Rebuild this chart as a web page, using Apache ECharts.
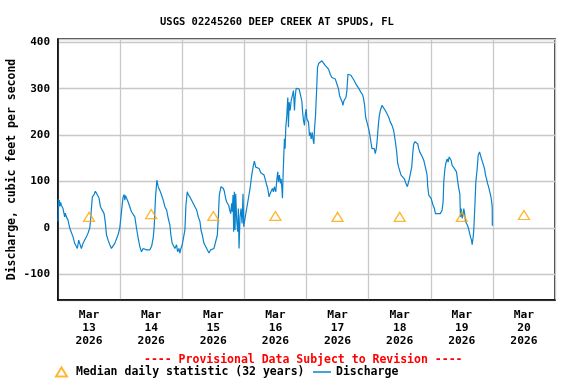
<!DOCTYPE html>
<html>
<head>
<meta charset="utf-8">
<script src="https://cdn.jsdelivr.net/npm/echarts@6/dist/echarts.min.js"></script>
<style>
  html, body { margin: 0; padding: 0; background: #fff; }
  #chart { width: 576px; height: 384px; }
</style>
</head>
<body>
<div id="chart"></div>
<script>
// hours since Mar 13 2026 00:00
var hours = [
  0.0, 0.13, 0.26, 0.52, 0.77, 1.03, 1.29, 1.55, 1.94, 2.32, 2.58, 2.84, 3.23, 3.61, 3.87, 4.26, 4.52, 5.16, 5.81, 6.45,
  7.10, 7.48, 8.0, 8.39, 9.03, 9.68, 10.32, 10.97, 11.61, 12.26, 12.65, 12.90, 13.29, 13.94, 14.45, 14.84, 15.23, 15.87, 16.39, 17.03,
  17.42, 17.81, 18.32, 18.71, 19.35, 20.0, 20.65, 21.29, 21.94, 22.58, 23.23, 23.87, 24.52, 25.16, 25.55, 25.81, 26.06, 26.45, 27.10, 27.74,
  28.39, 29.03, 29.68, 30.32, 30.97, 31.61, 32.26, 32.90, 33.55, 34.19, 34.84, 35.48, 36.13, 36.77, 37.16, 37.68, 38.19, 38.71, 39.35, 40.0,
  40.65, 41.29, 41.94, 42.58, 43.23, 43.61, 44.13, 44.52, 45.16, 45.81, 46.19, 46.71, 47.10, 47.48, 48.0, 48.65, 49.03, 49.42, 49.94, 50.32,
  50.97, 51.61, 52.26, 52.90, 53.55, 54.19, 54.84, 55.23, 55.74, 56.39, 57.03, 57.68, 58.32, 58.97, 59.61, 60.26, 60.90, 61.55, 61.94, 62.32,
  62.97, 63.48, 63.87, 64.26, 64.77, 65.16, 65.55, 65.94, 66.32, 66.71, 67.10, 67.35, 67.61, 67.87, 68.13, 68.39, 68.65, 69.03, 69.42, 69.68,
  69.94, 70.32, 70.71, 71.10, 71.48, 71.74, 72.13, 72.52, 72.90, 73.55, 74.19, 74.84, 75.48, 75.87, 76.39, 77.03, 77.68, 78.32, 78.97, 79.61,
  80.0, 80.26, 80.65, 81.03, 81.55, 81.94, 82.32, 82.84, 83.23, 83.61, 84.13, 84.52, 84.90, 85.16, 85.55, 85.94, 86.19, 86.45, 86.71, 86.97,
  87.23, 87.48, 87.74, 88.0, 88.39, 88.77, 89.03, 89.29, 89.68, 90.06, 90.58, 90.97, 91.35, 91.61, 92.0, 92.52, 93.16, 93.81, 94.19, 94.45,
  94.84, 95.23, 95.48, 95.87, 96.13, 96.52, 96.77, 97.16, 97.42, 97.81, 98.19, 98.58, 98.84, 99.10, 99.48, 99.87, 100.26, 100.77, 101.29, 101.94,
  102.58, 103.23, 103.87, 104.52, 105.16, 105.81, 106.45, 107.10, 107.74, 108.39, 108.77, 109.29, 109.81, 110.06, 110.45, 110.84, 111.23, 111.61, 112.0, 112.52,
  113.16, 113.81, 114.45, 115.10, 115.74, 116.39, 117.03, 117.68, 118.06, 118.45, 118.84, 119.35, 120.0, 120.39, 120.90, 121.29, 121.68, 122.19, 122.58, 122.97,
  123.35, 123.74, 124.13, 124.52, 125.16, 125.81, 126.45, 127.10, 127.74, 128.39, 129.03, 129.68, 130.06, 130.45, 130.84, 131.23, 131.61, 132.0, 132.52, 132.90,
  133.29, 133.81, 134.19, 134.58, 134.97, 135.35, 135.74, 136.13, 136.65, 137.03, 137.42, 137.94, 138.45, 138.97, 139.35, 139.74, 140.26, 140.77, 141.29, 141.68,
  142.06, 142.58, 142.84, 143.23, 143.61, 144.13, 144.52, 144.90, 145.42, 145.81, 146.19, 146.71, 147.23, 147.74, 148.39, 148.77, 149.03, 149.42, 149.81, 150.32,
  150.71, 151.10, 151.48, 151.87, 152.26, 152.65, 153.16, 153.55, 153.94, 154.45, 154.84, 155.23, 155.48, 155.74, 156.13, 156.52, 156.77, 157.16, 157.42, 157.81,
  158.19, 158.58, 158.97, 159.35, 159.74, 160.0, 160.39, 160.65, 161.03, 161.42, 161.94, 162.32, 162.84, 163.23, 163.61, 164.0, 164.39, 164.77, 165.16, 165.55,
  165.94, 166.32, 166.71, 167.10, 167.35, 167.74, 167.8
];
// discharge, cubic feet per second
var discharge = [
  14, 62, 45, 60, 47, 55, 49, 52, 42, 38, 24, 32, 24, 28, 17, 19, 0, -4, -19, -33,
  -36, -44, -26, -33, -44, -33, -26, -19, -11, 0, 20, 42, 67, 72, 79, 81, 71, 64, 46, 39,
  42, 31, 10, -14, -26, -36, -44, -40, -33, -29, -14, 0, 35, 67, 72, 60, 70, 67, 56, 53,
  35, 35, 24, 0, -22, -40, -51, -44, -47, -47, -44, -47, -40, -22, 3, 67, 103, 89, 81, 71,
  60, 46, 39, 21, 6, -15, -33, -36, -44, -36, -51, -44, -54, -44, -36, -33, -4, 49, 78, 72,
  67, 64, 53, 46, 39, 24, 14, -4, -15, -33, -40, -44, -54, -47, -49, -44, -40, -15, 24, 71,
  89, 92, 85, 79, 64, 56, 60, 49, 39, 31, 53, 35, 71, -8, 78, -4, 74, 17, -8, 42,
  -44, 24, 42, 10, 74, 3, 17, 21, 42, 46, 85, 114, 135, 144, 131, 135, 128, 119, 117, 114,
  106, 103, 92, 85, 67, 74, 78, 85, 78, 89, 78, 103, 121, 99, 114, 96, 106, 89, 64, 117,
  156, 192, 171, 217, 242, 281, 217, 271, 253, 274, 278, 296, 253, 281, 301, 303, 299, 296, 274, 253,
  231, 221, 242, 256, 235, 231, 228, 199, 206, 192, 206, 189, 181, 214, 242, 292, 346, 355, 357, 360,
  355, 350, 346, 342, 331, 324, 321, 321, 310, 299, 285, 281, 271, 264, 274, 271, 281, 296, 331, 332,
  329, 327, 317, 310, 306, 299, 292, 287, 278, 264, 239, 228, 214, 203, 199, 171, 167, 171, 160, 171,
  192, 221, 242, 253, 264, 260, 253, 249, 239, 228, 221, 210, 206, 181, 164, 139, 131, 128, 114, 114,
  110, 106, 99, 96, 89, 92, 106, 117, 131, 160, 181, 186, 189, 181, 171, 164, 160, 153, 146, 142,
  128, 114, 89, 71, 74, 64, 60, 49, 42, 31, 28, 31, 28, 31, 39, 56, 99, 125, 139, 149,
  142, 153, 156, 146, 135, 131, 128, 129, 121, 99, 85, 74, 24, 42, 21, 31, 42, 28, 14, 17,
  6, -1, 3, -19, -26, -36, -19, -1, 46, 99, 128, 156, 164, 160, 149, 146, 135, 128, 114, 106,
  96, 89, 89, 71, 64, 46, 5
];
// median daily statistic, one per day at noon
var medianHours = [12, 36, 60, 84, 108, 132, 156, 180];
var medianValues = [24, 30, 26, 26, 24, 24, 24, 28];
var dayLabels = ['Mar\n13\n2026', 'Mar\n14\n2026', 'Mar\n15\n2026', 'Mar\n16\n2026',
                 'Mar\n17\n2026', 'Mar\n18\n2026', 'Mar\n19\n2026', 'Mar\n20\n2026'];

var font = 'DejaVu Sans Mono';
var lineColor = '#0a82cc';
var medianColor = '#ffa500';

var lineData = [];
for (var i = 0; i < hours.length; i++) lineData.push([hours[i], discharge[i]]);
var medianData = [];
for (var j = 0; j < medianHours.length; j++) medianData.push([medianHours[j], medianValues[j]]);

var chart = echarts.init(document.getElementById('chart'), null, { renderer: 'canvas' });
chart.setOption({
  backgroundColor: '#fff',
  animation: false,
  title: [
    {
      text: 'USGS 02245260 DEEP CREEK AT SPUDS, FL',
      left: 155, top: 12,
      textStyle: { fontFamily: font, fontWeight: 'bold', fontSize: 10.5, color: '#000' }
    },
    {
      text: '---- Provisional Data Subject to Revision ----',
      left: 139, top: 349,
      textStyle: { fontFamily: font, fontWeight: 'bold', fontSize: 11.5, color: '#ff0000' }
    }
  ],
  legend: [
    {
      left: 50, top: 361,
      itemWidth: 11, itemHeight: 9,
      data: [{ name: 'Median daily statistic (32 years)', icon: 'triangle' }],
      textStyle: { fontFamily: font, fontWeight: 'bold', fontSize: 11.5, color: '#000', padding: [0, 0, 0, 4] }
    },
    {
      left: 308, top: 361,
      itemWidth: 18, itemHeight: 1.5,
      data: [{ name: 'Discharge', icon: 'rect' }],
      textStyle: { fontFamily: font, fontWeight: 'bold', fontSize: 11.5, color: '#000' }
    }
  ],
  grid: {
    left: 58, right: 21, top: 39, bottom: 84,
    outerBoundsMode: 'none',
    show: true, borderColor: '#000', borderWidth: 1.5, containLabel: false
  },
  xAxis: [
    {
      type: 'value', min: 0, max: 192, interval: 24,
      axisLine: { show: true, onZero: false, lineStyle: { color: '#000', width: 1.5 } },
      axisTick: { show: false },
      axisLabel: { show: false },
      splitLine: { show: true, lineStyle: { color: '#c8c8c8', width: 1.3 } }
    },
    {
      type: 'category', position: 'bottom', data: dayLabels, boundaryGap: true,
      axisLine: { show: false, onZero: false }, axisTick: { show: false }, splitLine: { show: false },
      axisLabel: {
        fontFamily: font, fontWeight: 'bold', fontSize: 11.3, color: '#000',
        lineHeight: 13, margin: 9, interval: 0
      }
    }
  ],
  yAxis: {
    type: 'value', min: -155, max: 407,
    name: 'Discharge, cubic feet per second',
    nameLocation: 'middle', nameGap: 40, nameMoveOverlap: false,
    nameTextStyle: { fontFamily: font, fontWeight: 'bold', fontSize: 11.5, color: '#000' },
    axisLine: { show: true, onZero: false, lineStyle: { color: '#000', width: 1.5 } },
    axisTick: { show: false },
    axisLabel: {
      fontFamily: font, fontWeight: 'bold', fontSize: 11, color: '#000', margin: 8,
      showMinLabel: false, showMaxLabel: false
    },
    splitLine: { show: true, lineStyle: { color: '#c8c8c8', width: 1.3 } }
  },
  series: [
    {
      name: 'Median daily statistic (32 years)',
      type: 'scatter',
      xAxisIndex: 0,
      symbol: 'triangle',
      symbolSize: [11, 9],
      itemStyle: { color: 'rgba(0,0,0,0)', borderColor: medianColor, borderWidth: 1.3 },
      data: medianData,
      z: 3
    },
    {
      name: 'Discharge',
      type: 'line',
      xAxisIndex: 0,
      symbol: 'none',
      showSymbol: false,
      lineStyle: { color: lineColor, width: 1.2 },
      itemStyle: { color: lineColor },
      data: lineData,
      z: 2
    }
  ]
});
</script>
</body>
</html>
